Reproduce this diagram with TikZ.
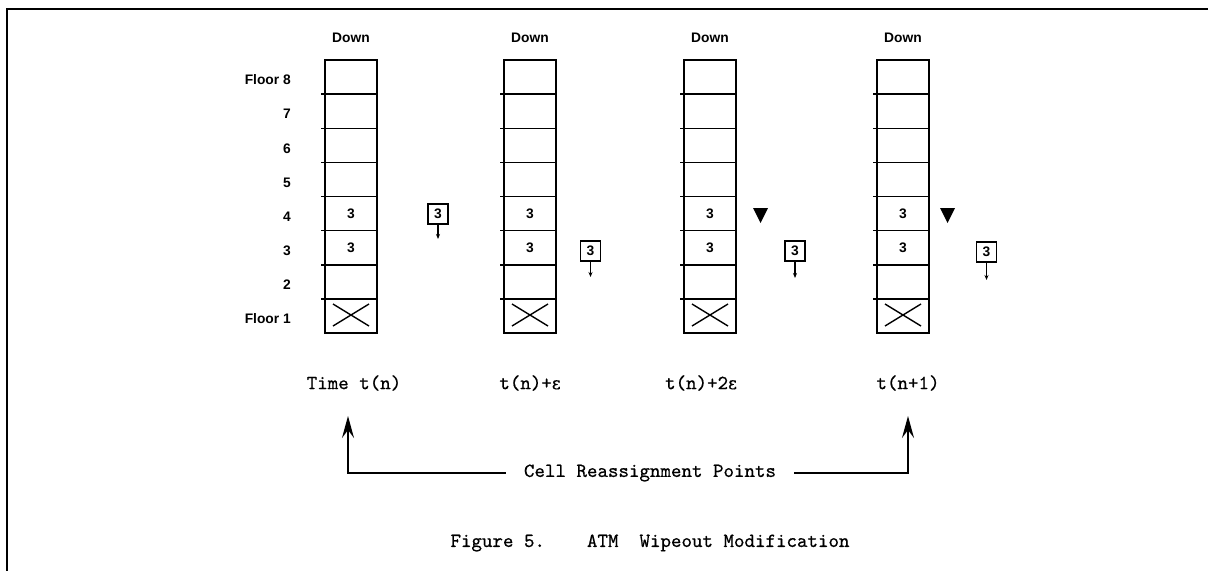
\documentclass[tikz,border=0pt]{standalone}
\usepackage{fontspec}
\setsansfont{Liberation Sans}
\newfontfamily\heavytt[FakeBold=0.6]{lmmono10-regular.otf}
\newfontfamily\grk[FakeBold=0.6]{DejaVu Serif}
\usetikzlibrary{arrows.meta}
\begin{document}
\begin{tikzpicture}[x=1pt,y=-1pt,
  sanslbl/.style={font=\sffamily\bfseries\fontsize{13.8}{16}\selectfont, inner sep=0pt},
  ttlbl/.style={font=\heavytt\fontsize{20}{24}\selectfont, inner sep=0pt},
  cellline/.style={line width=1.9pt},
  rowline/.style={line width=1.5pt},
  iconbox/.style={draw, line width=1.5pt, minimum width=20pt, minimum height=20pt, inner sep=0pt,
     font=\sffamily\bfseries\fontsize{13.8}{16}\selectfont},
  iconarrow/.style={line width=1.2pt, -{Stealth[length=5pt,width=4pt]}},
  bigarrow/.style={line width=2pt, -{Stealth[length=22pt,width=12pt,inset=8pt]}},
  marker/.style={fill=black, draw=none}]
\useasboundingbox (0,0) rectangle (1208,571);
% frame (top and left edges)
\draw[line width=1.8pt] (1208,9) -- (7,9) -- (7,571);
% elevator columns
\foreach \cx/\n in {325/1,504/2,684/3,877/4}{
  \foreach \i in {1,...,7}{
    \draw[rowline] (\cx-4,60+\i*34.125) -- (\cx+52,60+\i*34.125);
  }
  \draw[cellline] (\cx,60) rectangle (\cx+52,333);
  \draw[line width=1.4pt] (\cx+8,304) -- (\cx+44,326);
  \draw[line width=1.4pt] (\cx+8,326) -- (\cx+44,304);
  \node[sanslbl] (down\n) at (\cx+26,38) {Down};
  \node[sanslbl] (ca\n) at (\cx+26,213.6) {3};
  \node[sanslbl] (cb\n) at (\cx+26,247.7) {3};
}
% floor labels
\foreach \k/\t in {8/Floor 8,7/7,6/6,5/5,4/4,3/3,2/2,1/Floor 1}{
  \node[sanslbl, anchor=east] (fl\k) at (291,{333-(\k-0.5)*34.125+3}) {\t};
}
% call icons
\node[iconbox] (ic1) at (438,214) {3};
\node[iconbox] (ic2) at (590.5,251) {3};
\node[iconbox] (ic3) at (795,251) {3};
\node[iconbox] (ic4) at (986.5,252) {3};
\coordinate (ie1) at (438,239);
\coordinate (ie2) at (590.5,277);
\coordinate (ie3) at (795,278);
\coordinate (ie4) at (986.5,280);
\foreach \n in {1,2,3,4}{ \draw[iconarrow] (ic\n.south) -- (ie\n); }
% car markers
\fill[marker] (753,208) -- (768,208) -- (760.5,223) -- cycle;
\fill[marker] (940,208) -- (955,208) -- (947.5,223) -- cycle;
% time labels
\node[ttlbl] (t1) at (354,383) {Time t(n)};
\node[ttlbl] (t2) at (530,383) {t(n)+{\grk\fontsize{17}{20}\selectfont ε}};
\node[ttlbl] (t3) at (701,383) {t(n)+2{\grk\fontsize{17}{20}\selectfont ε}};
\node[ttlbl] (t4) at (908,383) {t(n+1)};
% reassignment points
\node[ttlbl, inner xsep=18pt] (crp) at (650,473) {Cell Reassignment Points};
\coordinate (a1) at (348,416);
\coordinate (a4) at (908,416);
\draw[bigarrow] (crp.west) -| (a1);
\draw[bigarrow] (crp.east) -| (a4);
% caption
\node[ttlbl] (cap) at (650,543) {Figure 5.~~~~ATM~~Wipeout Modification};
\end{tikzpicture}
\end{document}
